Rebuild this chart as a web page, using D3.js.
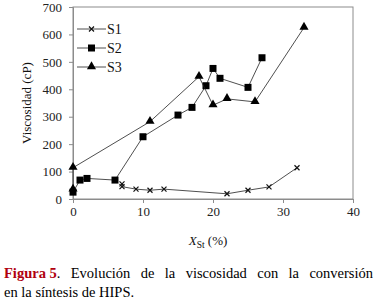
<!DOCTYPE html>
<html><head><meta charset="utf-8">
<script src="https://cdn.jsdelivr.net/npm/d3@7"></script>
<style>body{margin:0;background:#fff}svg{display:block}
svg text{font-family:"Liberation Serif","Times New Roman",serif;}
</style>
</head><body>
<svg id="c" width="377" height="303"></svg>
<script>
// Data
const s1X = [7, 7, 9, 11, 13, 22, 25, 28, 32];
const s1Y = [55, 45, 36, 32, 36, 19, 32, 44, 114];
const s2X = [0, 1, 2, 6, 10, 15, 17, 19, 20, 21, 25, 27];
const s2Y = [25, 69, 75, 69, 227, 306, 334, 413, 476, 440, 407, 515];
const s3X = [0, 0, 11, 18, 20, 22, 26, 33];
const s3Y = [35, 114, 282, 446, 342, 365, 354, 625];
const seriesNames = ["S1", "S2", "S3"];
const xTicks = [0, 10, 20, 30, 40];
const yTicks = [0, 100, 200, 300, 400, 500, 600, 700];

const svg = d3.select("#c");
const font = "Liberation Serif, Times New Roman, serif";
const x = d3.scaleLinear().domain([0, 40]).range([73, 353]);
const y = d3.scaleLinear().domain([0, 700]).range([199, 7]);
const axisCol = "#8c8c8c";

svg.append("rect").attr("x", x(0)).attr("y", y(700)).attr("width", x(40) - x(0)).attr("height", y(0) - y(700))
  .attr("fill", "none").attr("stroke", axisCol).attr("stroke-width", 1);

const gx = svg.append("g").attr("transform", `translate(0,${y(0)})`)
  .call(d3.axisBottom(x).tickValues(xTicks).tickSize(4).tickPadding(4).tickFormat(d3.format("d")));
const gy = svg.append("g").attr("transform", `translate(${x(0)},0)`)
  .call(d3.axisLeft(y).tickValues(yTicks).tickSize(4).tickPadding(7).tickFormat(d3.format("d")));
[gx, gy].forEach(g => {
  g.attr("font-family", font).attr("font-size", 13);
  g.select(".domain").attr("stroke", axisCol);
  g.selectAll(".tick line").attr("stroke", axisCol);
  g.selectAll(".tick text").attr("fill", "#222");
});

const mk = (xs, ys) => xs.map((v, i) => ({x: v, y: ys[i]}));
const series = [mk(s1X, s1Y), mk(s2X, s2Y), mk(s3X, s3Y)];
const line = d3.line().x(d => x(d.x)).y(d => y(d.y));
const tri = d3.symbol().type(d3.symbolTriangle).size(36)();
const sq = d3.symbol().type(d3.symbolSquare).size(49)();
const crs = d3.symbol().type(d3.symbolX).size(18)();

function marker(g, kind, cx, cy) {
  if (kind === 0) g.append("path").attr("d", crs).attr("transform", `translate(${cx},${cy})`).attr("fill", "none").attr("stroke", "#111").attr("stroke-width", 1.2);
  else if (kind === 1) g.append("path").attr("d", sq).attr("transform", `translate(${cx},${cy})`).attr("fill", "#000");
  else g.append("path").attr("d", tri).attr("transform", `translate(${cx},${cy - 0.5})`).attr("fill", "#000");
}

series.forEach((data, k) => {
  const g = svg.append("g");
  g.append("path").datum(data).attr("d", line).attr("fill", "none").attr("stroke", "#222").attr("stroke-width", 0.8);
  data.forEach(d => marker(g, k, x(d.x), y(d.y)));
});

const lg = svg.append("g");
seriesNames.forEach((n, i) => {
  const ly = 29 + i * 19;
  lg.append("line").attr("x1", 77).attr("x2", 106).attr("y1", ly).attr("y2", ly).attr("stroke", "#222").attr("stroke-width", 0.8);
  marker(lg, i, 91.5, ly);
  lg.append("text").attr("x", 107).attr("y", ly + 4.5).text(n)
    .attr("font-size", 14).attr("fill", "#111");
});

svg.append("text").attr("transform", "translate(31,103) rotate(-90)").attr("text-anchor", "middle")
  .attr("font-size", 13).attr("fill", "#111").text("Viscosidad (cP)");
const xt = svg.append("text").attr("x", 208).attr("y", 245).attr("text-anchor", "middle")
  .attr("font-size", 13).attr("fill", "#111");
xt.append("tspan").style("font-style", "italic").text("X");
xt.append("tspan").attr("dy", 2.5).attr("font-size", 9.5).text("St");
xt.append("tspan").attr("dy", -2.5).text(" (%)");

// caption line 1, justified between x=4 and x=373 by placing words
// each word: [text, bold-red, attachedToPrevious]
const words = [["Figura 5", true, false], [".", false, true], ["Evolución", false, false], ["de", false, false], ["la", false, false],
  ["viscosidad", false, false], ["con", false, false], ["la", false, false], ["conversión", false, false]];
const cap1 = svg.append("text").attr("y", 278).attr("font-size", 14.5).attr("fill", "#000");
const spans = words.map(([w, b]) => cap1.append("tspan").text(w)
  .attr("fill", b ? "#b0000e" : "#000").style("font-weight", b ? "bold" : "normal"));
const widths = spans.map(s => s.node().getComputedTextLength());
const total = widths.reduce((a, b) => a + b, 0);
const gaps = words.filter((w, i) => i > 0 && !w[2]).length;
const gap = (373 - 4 - total) / gaps;
let cx = 4;
spans.forEach((s, i) => {
  if (i > 0 && !words[i][2]) cx += gap;
  s.attr("x", cx);
  cx += widths[i];
});
svg.append("text").attr("x", 4).attr("y", 297).attr("font-size", 14.5).attr("fill", "#000")
  .text("en la síntesis de HIPS.");
</script>
</body></html>
